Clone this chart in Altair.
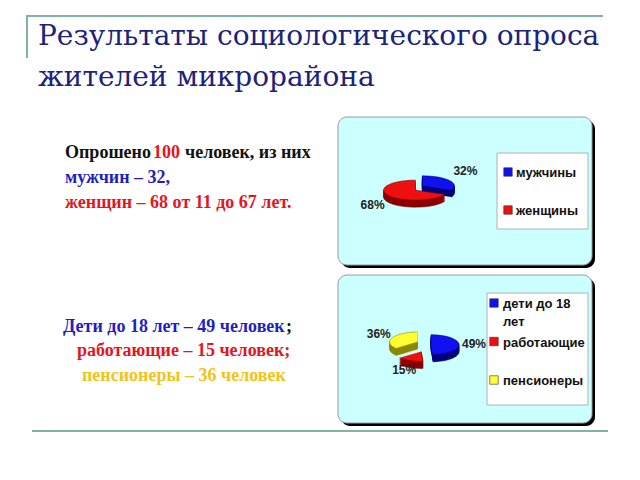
import altair as alt
import pandas as pd

# ---------------- data ----------------
total_polled = 100
age_min, age_max = 11, 67
gender_cats = ["мужчины", "женщины"]
gender_vals = [32, 68]
group_cats = ["дети до 18 лет", "работающие", "пенсионеры"]
group_vals = [49, 15, 36]
title_lines = ["Результаты социологического опроса", "жителей микрорайона"]

# ---------------- styles ----------------
OFF = 8
W, H = 624, 464
NAVY = "#1b237c"
BLUE = "#1f1fbf"
RED = "#e8141c"
GOLD = "#f2c318"
TEAL = "#7fb3a6"
PANEL = "#ccffff"
SERIF = "Liberation Serif"
TITLE_FONT = "DejaVu Serif"
SANS = "Liberation Sans"
NSTEP = 40


def P(v):
    return v - OFF


one = pd.DataFrame({"d": [0]})


def rect(x1, y1, x2, y2, **kw):
    return alt.Chart(one).mark_rect(**kw).encode(
        x=alt.value(P(x1)), x2=alt.value(P(x2)), y=alt.value(P(y1)), y2=alt.value(P(y2))
    )


def text(s, x, y, **kw):
    return alt.Chart(pd.DataFrame({"t": [s]})).mark_text(align="left", baseline="alphabetic", **kw).encode(
        text="t:N", x=alt.value(P(x)), y=alt.value(P(y))
    )


def pie(cats, vals, tops, sides, cx, cy, rx, ry, depth, explode, lrx, lry):
    df = pd.DataFrame({"cat": cats, "val": vals, "order": list(range(len(cats)))})
    base = (
        alt.Chart(df)
        .transform_joinaggregate(total="sum(val)")
        .transform_window(cum="sum(val)", sort=[alt.SortField("order")])
        .transform_calculate(
            a0="2*PI*(datum.cum-datum.val)/datum.total",
            a1="2*PI*datum.cum/datum.total",
            mid="PI*(2*datum.cum-datum.val)/datum.total",
        )
        .transform_calculate(
            ex=f"{P(cx)} + {explode}*sin(datum.mid)",
            ey=f"{P(cy)} - {explode}*cos(datum.mid)",
            lx=f"{P(cx)} + {lrx}*sin(datum.mid)",
            ly=f"{P(cy)} - {lry}*cos(datum.mid)",
            label="format(datum.val/datum.total, '.0%')",
        )
    )
    shape = (
        base.transform_calculate(steps=f"sequence(-1, {NSTEP + 1})")
        .transform_flatten(["steps"], as_=["step"])
        .transform_calculate(t=f"datum.a0 + (datum.a1 - datum.a0) * max(datum.step, 0) / {NSTEP}")
        .transform_calculate(
            px=f"datum.step < 0 ? datum.ex : datum.ex + {rx} * sin(datum.t)",
            py=f"datum.step < 0 ? datum.ey : datum.ey - {ry} * cos(datum.t)",
        )
    )
    enc = dict(
        x=alt.X("px:Q", scale=None),
        y=alt.Y("py:Q", scale=None),
        detail="cat:N",
        order=alt.Order("step:Q"),
    )
    layers = []
    for off in range(depth, 0, -1):
        layers.append(
            shape.mark_line(yOffset=off, strokeWidth=0.6).encode(
                fill=alt.Fill("cat:N", scale=alt.Scale(domain=cats, range=sides), legend=None),
                stroke=alt.Stroke("cat:N", scale=alt.Scale(domain=cats, range=sides), legend=None),
                **enc,
            )
        )
    layers.append(
        shape.mark_line(strokeWidth=0.6).encode(
            fill=alt.Fill("cat:N", scale=alt.Scale(domain=cats, range=tops), legend=None),
            stroke=alt.Stroke("cat:N", scale=alt.Scale(domain=cats, range=sides), legend=None),
            **enc,
        )
    )
    layers.append(
        base.mark_text(font=SANS, fontSize=12, fontWeight="bold", color="#222222").encode(
            text="label:N", x=alt.X("lx:Q", scale=None), y=alt.Y("ly:Q", scale=None)
        )
    )
    return layers


def legend(cats, tops, xsq, xtxt, y0, y1):
    df = pd.DataFrame({"cat": cats})
    ysc = alt.Scale(type="point", domain=cats, range=[P(y0), P(y1)], padding=0)
    sq = alt.Chart(df).mark_square(size=72, opacity=1, stroke="#333333", strokeWidth=0.6).encode(
        x=alt.value(P(xsq)),
        y=alt.Y("cat:N", scale=ysc, axis=None),
        color=alt.Color("cat:N", scale=alt.Scale(domain=cats, range=tops), legend=None),
    )
    tx = (
        alt.Chart(df)
        .transform_calculate(lab="replace(datum.cat, ' лет', '\\nлет')")
        .mark_text(align="left", baseline="alphabetic", dy=5, font=SANS, fontSize=13,
                   fontWeight="bold", color="#111111", lineBreak="\n", lineHeight=18)
        .encode(x=alt.value(P(xtxt)), y=alt.Y("cat:N", scale=ysc, axis=None), text="lab:N")
    )
    return [sq, tx]


layers = []
# decorative lines
layers.append(rect(27, 15, 603, 17, color=TEAL))
layers.append(rect(26, 15, 28, 58, color=TEAL))
layers.append(rect(32, 430, 608, 432, color=TEAL))

# title
layers.append(text(title_lines[0], 38, 45, font=TITLE_FONT, fontSize=28, color=NAVY))
layers.append(text(title_lines[1], 38, 86, font=TITLE_FONT, fontSize=28, color=NAVY))

# left text, block 1
bold = dict(font=SERIF, fontSize=18, fontWeight="bold")
layers.append(text("Опрошено", 65, 158, color="#111111", **bold))
layers.append(text(str(total_polled), 153, 158, color=RED, **bold))
layers.append(text("человек, из них", 185, 158, color="#111111", **bold))
layers.append(text(f"мужчин – {gender_vals[0]},", 65, 183, color=BLUE, **bold))
layers.append(text(f"женщин – {gender_vals[1]} от {age_min} до {age_max} лет.", 65, 208, color=RED, **bold))

# left text, block 2
layers.append(text(f"Дети до 18 лет – {group_vals[0]} человек", 63, 332, color=BLUE, **bold))
layers.append(text(";", 286, 332, color="#111111", **bold))
layers.append(text(f"работающие – {group_vals[1]} человек;", 77, 356, color=RED, **bold))
layers.append(text(f"пенсионеры – {group_vals[2]} человек", 82, 381, color=GOLD, **bold))

# panels
for (y1, y2) in [(117, 265), (275, 423)]:
    layers.append(rect(341, y1 + 3, 595, y2 + 3, color="#000000", cornerRadius=9))
    layers.append(rect(338, y1, 592, y2, fill=PANEL, stroke="#9a9a9a", strokeWidth=1, cornerRadius=9))

# legend boxes
layers.append(rect(497, 153, 588, 229, fill="#ffffff", stroke="#b0b0b0", strokeWidth=1))
layers.append(rect(487, 293, 588, 405, fill="#ffffff", stroke="#b0b0b0", strokeWidth=1))

# pies
layers += pie(gender_cats, gender_vals, ["#1010f0", "#ee1010"], ["#00007a", "#8a0000"],
              419, 188, 32, 10, 7, 4, 55, 32)
layers += pie(group_cats, group_vals, ["#1010f0", "#ee1010", "#ffff30"],
              ["#00007a", "#8a0000", "#8a8a00"], 424, 345, 28, 10, 7, 7, 50, 27)

# legends
layers += legend(gender_cats, ["#1010f0", "#ee1010"], 508, 516, 172, 210)
layers += legend(group_cats, ["#1010f0", "#ee1010", "#ffff30"], 494, 503, 303, 380)

chart = (
    alt.layer(*layers)
    .resolve_scale(x="independent", y="independent", color="independent",
                   fill="independent", stroke="independent")
    .properties(width=W, height=H, autosize=alt.AutoSizeParams(type="none"), padding=0,
                background="#ffffff")
    .configure_view(stroke=None)
)

chart.save("out.html", embed_options={"renderer": "svg", "actions": False})
